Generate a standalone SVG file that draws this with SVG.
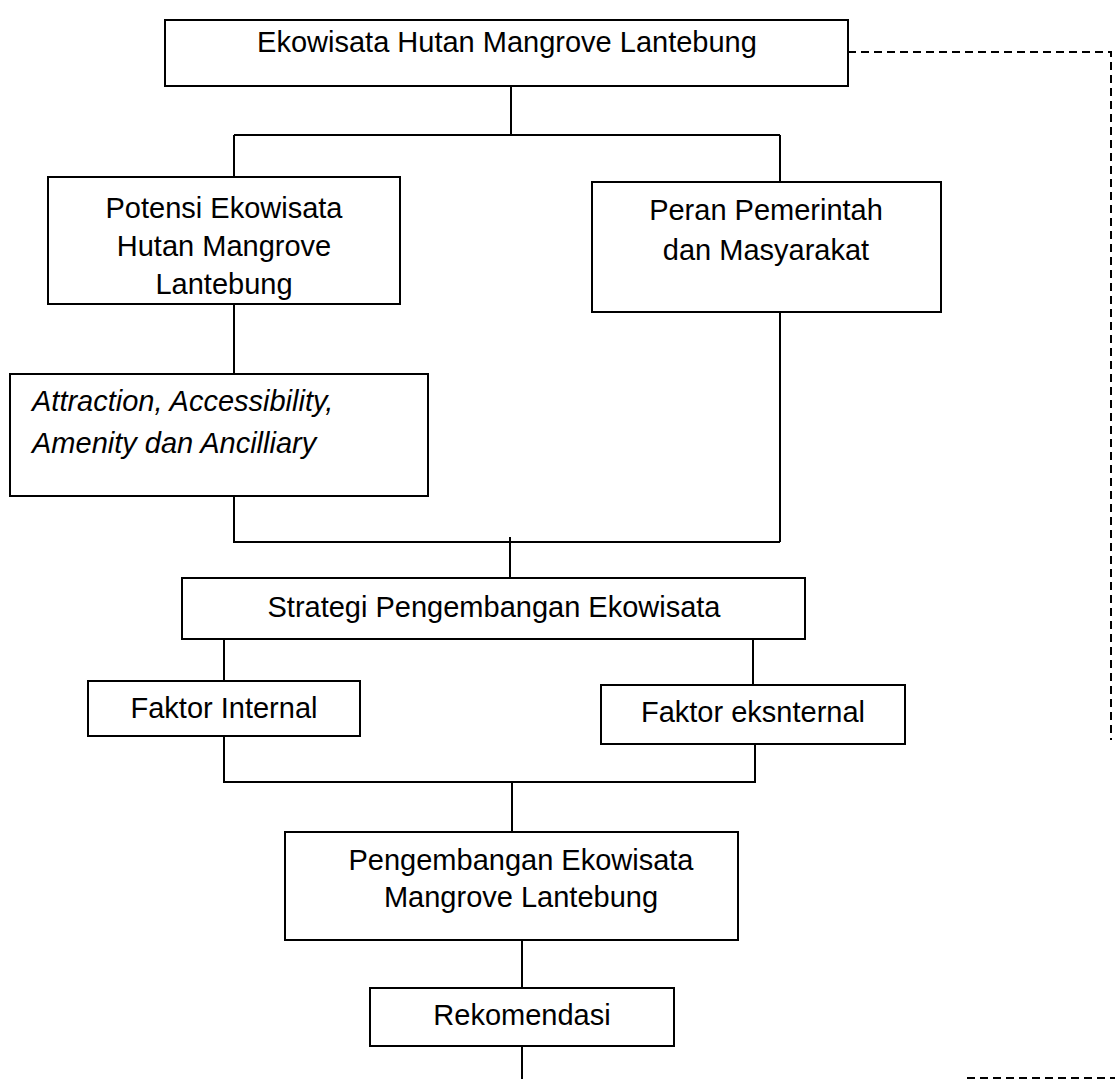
<svg xmlns="http://www.w3.org/2000/svg" width="1115" height="1079" viewBox="0 0 1115 1079">
<style>
.box{fill:#fff;stroke:#000;stroke-width:2}
.ln{fill:none;stroke:#000;stroke-width:2}
.dash{fill:none;stroke:#000;stroke-width:2;stroke-dasharray:8 5}
text{font-family:"Liberation Sans",Arial,sans-serif;font-size:29px;fill:#000}
.c{text-anchor:middle}
.i{font-style:italic}
</style>
<rect width="1115" height="1079" fill="#fff"/>
<g id="connectors">
<path class="ln" d="M511 86V135M234 135H780M234 135V177M780 135V182"/>
<path class="ln" d="M234 304V375"/>
<path class="ln" d="M234 493V542H780M780 312V542M510 537V578"/>
<path class="ln" d="M224 639V681M753 639V685"/>
<path class="ln" d="M224 736V782H755M755 744V783M512 782V832"/>
<path class="ln" d="M522 940V988M522 1046V1079"/>
<path class="dash" d="M848 52H1111V740"/>
<path class="dash" d="M967 1078H1115"/>
</g>
<g id="n1"><rect class="box" x="165" y="20" width="683" height="66"/><text class="c" x="507" y="52">Ekowisata Hutan Mangrove Lantebung</text></g>
<g id="n2"><rect class="box" x="48" y="177" width="352" height="127"/><text class="c" x="224" y="218">Potensi Ekowisata</text><text class="c" x="224" y="256">Hutan Mangrove</text><text class="c" x="224" y="294">Lantebung</text></g>
<g id="n3"><rect class="box" x="592" y="182" width="349" height="130"/><text class="c" x="766" y="220">Peran Pemerintah</text><text class="c" x="766" y="260">dan Masyarakat</text></g>
<g id="n4"><rect class="box" x="10" y="374" width="418" height="122"/><text class="i" x="32" y="411">Attraction, Accessibility,</text><text class="i" x="32" y="453">Amenity dan Ancilliary</text></g>
<g id="n5"><rect class="box" x="182" y="578" width="623" height="61"/><text class="c" x="494" y="617">Strategi Pengembangan Ekowisata</text></g>
<g id="n6"><rect class="box" x="88" y="681" width="272" height="55"/><text class="c" x="224" y="718">Faktor Internal</text></g>
<g id="n7"><rect class="box" x="601" y="685" width="304" height="59"/><text class="c" x="753" y="722">Faktor eksnternal</text></g>
<g id="n8"><rect class="box" x="285" y="832" width="453" height="108"/><text class="c" x="521" y="870">Pengembangan Ekowisata</text><text class="c" x="521" y="907">Mangrove Lantebung</text></g>
<g id="n9"><rect class="box" x="370" y="988" width="304" height="58"/><text class="c" x="522" y="1025">Rekomendasi</text></g>
</svg>
